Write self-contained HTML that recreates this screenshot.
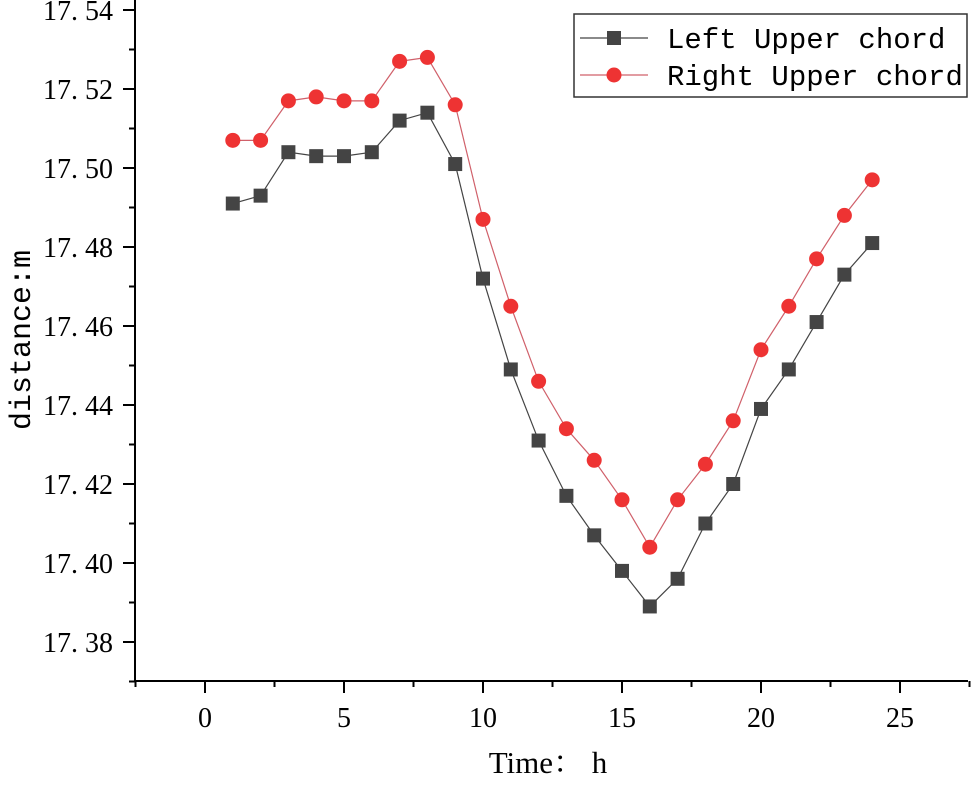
<!DOCTYPE html>
<html><head><meta charset="utf-8"><style>
body{margin:0;background:#fff}
svg text{font-family:"Liberation Serif","Noto Serif CJK SC",serif;fill:#000}
</style></head><body>
<svg id="c" width="973" height="780" xmlns="http://www.w3.org/2000/svg"></svg>
<script>
const hours=[1,2,3,4,5,6,7,8,9,10,11,12,13,14,15,16,17,18,19,20,21,22,23,24];
const leftUpper=[17.491,17.493,17.504,17.503,17.503,17.504,17.512,17.514,17.501,17.472,17.449,17.431,17.417,17.407,17.398,17.389,17.396,17.410,17.420,17.439,17.449,17.461,17.473,17.481];
const rightUpper=[17.507,17.507,17.517,17.518,17.517,17.517,17.527,17.528,17.516,17.487,17.465,17.446,17.434,17.426,17.416,17.404,17.416,17.425,17.436,17.454,17.465,17.477,17.488,17.497];
const xTicks=[0,5,10,15,20,25];
const yTicks=[17.38,17.40,17.42,17.44,17.46,17.48,17.50,17.52,17.54];
const NS="http://www.w3.org/2000/svg";
const svg=document.getElementById('c');
const X=v=>205+(v-0)*27.8;
const Y=v=>642-(v-17.38)/0.01*39.5;
function el(t,a,p){const e=document.createElementNS(NS,t);for(const k in a)e.setAttribute(k,a[k]);(p||svg).appendChild(e);return e;}
let ax=el('line',{x1:135,y1:681,x2:968,y2:681,stroke:'#000','stroke-width':2});


let ay=el('line',{x1:135,y1:0,x2:135,y2:682,stroke:'#000','stroke-width':2});


for(let v=-2.5;v<=27.6;v+=2.5){const major=Math.abs(v%5)<1e-6;el('line',{x1:X(v),y1:681,x2:X(v),y2:681+(major?12:6),stroke:'#000','stroke-width':2});}
xTicks.forEach(v=>{const t=el('text',{x:X(v),y:727,'font-size':28,'text-anchor':'middle'});t.textContent=v;

});
for(let i=0;i<=17;i++){const v=17.37+i*0.01;const major=i%2==1;el('line',{x1:135,y1:Y(v),x2:135-(major?12:6),y2:Y(v),stroke:'#000','stroke-width':2});}
yTicks.forEach(v=>{const t=el('text',{x:113,y:Y(v)+10,'font-size':28,'text-anchor':'end'});t.textContent=v.toFixed(2).replace('.','. ');

});
let xt=el('text',{x:548,y:773,'font-size':31,'text-anchor':'middle'});xt.textContent='Time： h';


let yt=el('text',{x:0,y:0,'font-size':30,'text-anchor':'middle',style:'font-family:"Liberation Mono",monospace',transform:'translate(30,340) rotate(-90)'});yt.textContent='distance:m';


function series(vals,color,fill,shape,name){
 const g=el('g',{});
 
 
 el('polyline',{points:hours.map((h,i)=>X(h)+','+Y(vals[i])).join(' '),fill:'none',stroke:color,'stroke-width':1.2},g);
 hours.forEach((h,i)=>{let m;
  if(shape=='sq')m=el('rect',{x:X(h)-7,y:Y(vals[i])-7,width:14,height:14,fill:fill},g);
  else m=el('circle',{cx:X(h),cy:Y(vals[i]),r:7.5,fill:fill},g);
  
  });
}
series(leftUpper,'#444','#444','sq','left-upper-chord-series');
series(rightUpper,'#d0606a','#ee3333','ci','right-upper-chord-series');
const lg=el('g',{});


el('rect',{x:574,y:14,width:393,height:83,fill:'#fff',stroke:'#333','stroke-width':1.5},lg);
el('line',{x1:580,y1:38,x2:648,y2:38,stroke:'#444','stroke-width':1.2},lg);
el('rect',{x:607,y:31,width:14,height:14,fill:'#444'},lg);
el('line',{x1:580,y1:75,x2:648,y2:75,stroke:'#d0606a','stroke-width':1.2},lg);
el('circle',{cx:614,cy:75,r:7.5,fill:'#ee3333'},lg);
let l1=el('text',{x:667,y:48,'font-size':29,style:'font-family:"Liberation Mono",monospace'},lg);l1.textContent='Left Upper chord';


let l2=el('text',{x:667,y:85,'font-size':29,style:'font-family:"Liberation Mono",monospace'},lg);l2.textContent='Right Upper chord';


</script>
</body></html>
